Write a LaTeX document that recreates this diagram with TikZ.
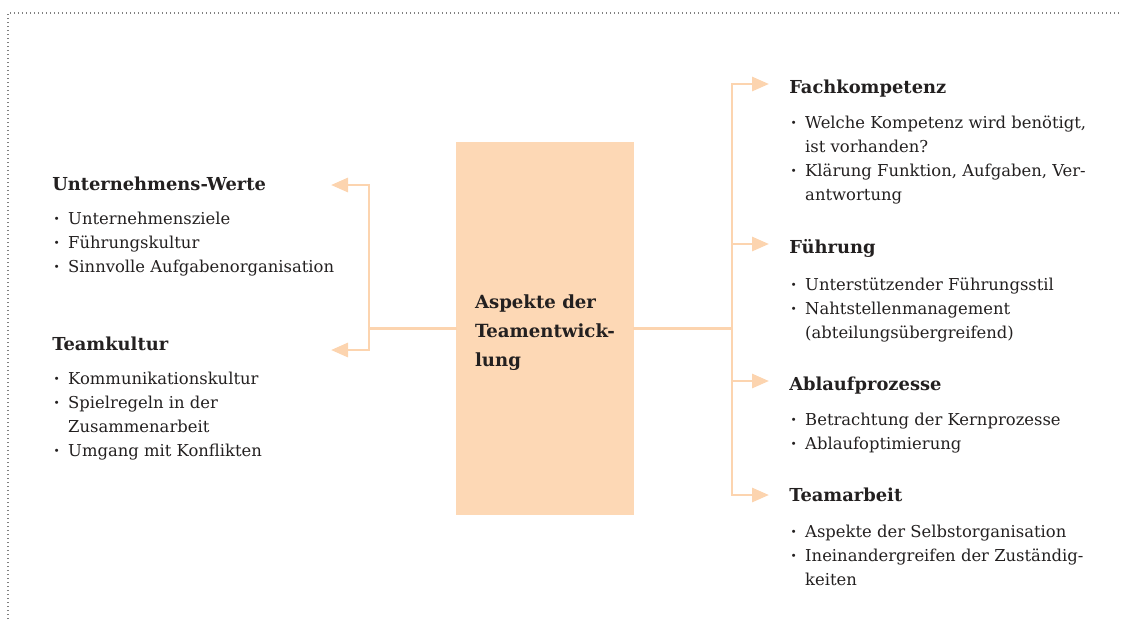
\documentclass[tikz,border=0pt]{standalone}
\usepackage{fontspec}
\setmainfont{DejaVu Serif}
\usetikzlibrary{arrows.meta,positioning}
\definecolor{peach}{RGB}{253,216,181}
\definecolor{peachline}{RGB}{252,212,175}
\definecolor{ink}{RGB}{35,32,32}
\newcommand\bpt{\makebox[10.7pt][l]{\bfseries·}}
\newcommand\bcont{\hspace*{10.7pt}}
\tikzset{
  head/.style={anchor=base west, inner sep=0pt, font=\fontsize{13.4}{16}\selectfont\bfseries, text=ink},
  items/.style={anchor=base west, inner sep=0pt, align=left, font=\fontsize{12.3}{18}\selectfont, text=ink},
  conn/.style={draw=peachline, line width=2.2pt, line cap=rect},
  arr/.style={-{Triangle[length=12.75pt,width=10.5pt]}}
}

\begin{document}
\begin{tikzpicture}[x=0.75pt,y=-0.75pt]
\useasboundingbox (0,0) rectangle (1121,619);
\draw [gray, line width=0.8pt, dash pattern=on 0.8pt off 2.2pt] (8,619) -- (8,13) -- (1121,13);

% centre box
\node [fill=peach, minimum width=133.5pt, minimum height=279.75pt, inner sep=0pt] (core) at (545,328.5) {};
\node [anchor=west, align=left, inner sep=0pt, font=\fontsize{13.6}{21.75}\selectfont\bfseries, text=ink] (coretitle) at ([xshift=14.25pt,yshift=-3pt]core.west) {Aspekte der\\Teamentwick-\\lung};

% left side (list nodes sit on the baseline of their last line)
\node [head] (werte) at (52,190) {Unternehmens-Werte};
\node [items] (wertelist) at (53.7,272) {\bpt Unternehmensziele\\ \bpt Führungskultur\\ \bpt Sinnvolle Aufgabenorganisation};
\node [head] (kultur) at (52,350) {Teamkultur};
\node [items] (kulturlist) at (53.7,456) {\bpt Kommunikationskultur\\ \bpt Spielregeln in der\\ \bcont Zusammenarbeit\\ \bpt Umgang mit Konflikten};

% right side
\node [head] (fach) at (789,93) {Fachkompetenz};
\node [items] (fachlist) at (790.7,200) {\bpt Welche Kompetenz wird benötigt,\\ \bcont ist vorhanden?\\ \bpt Klärung Funktion, Aufgaben, Ver-\\ \bcont antwortung};
\node [head] (fuehrung) at (789,253) {Führung};
\node [items] (fuehrunglist) at (790.7,338) {\bpt Unterstützender Führungsstil\\ \bpt Nahtstellenmanagement\\ \bcont (abteilungsübergreifend)};
\node [head] (ablauf) at (789,390) {Ablaufprozesse};
\node [items] (ablauflist) at (790.7,449) {\bpt Betrachtung der Kernprozesse\\ \bpt Ablaufoptimierung};
\node [head] (teamarbeit) at (789,501) {Teamarbeit};
\node [items] (teamarbeitlist) at (790.7,585) {\bpt Aspekte der Selbstorganisation\\ \bpt Ineinandergreifen der Zuständig-\\ \bcont keiten};

% connectors left
\coordinate (lbus) at (369,328.5);
\coordinate (lbustop) at (369,185);
\coordinate (lbusbot) at (369,350);
\coordinate (ltipwerte) at (331,185);
\coordinate (ltipkultur) at (331,350);
\draw [conn] (core.west) -- (lbus);
\draw [conn, arr] (lbusbot) -- (lbustop) -- (ltipwerte);
\draw [conn, arr] (lbusbot) -- (ltipkultur);

% connectors right
\coordinate (rbus) at (732,328.5);
\coordinate (rbustop) at (732,84);
\coordinate (rbusbot) at (732,495);
\coordinate (rtipfach) at (769,84);
\coordinate (rtipfuehrung) at (769,244);
\coordinate (rtipablauf) at (769,381);
\coordinate (rtipteam) at (769,495);
\draw [conn] (core.east) -- (rbus);
\draw [conn, arr] (rbusbot) -- (rbustop) -- (rtipfach);
\draw [conn, arr] (rbus |- rtipfuehrung) -- (rtipfuehrung);
\draw [conn, arr] (rbus |- rtipablauf) -- (rtipablauf);
\draw [conn, arr] (rbusbot) -- (rtipteam);
\end{tikzpicture}
\end{document}
